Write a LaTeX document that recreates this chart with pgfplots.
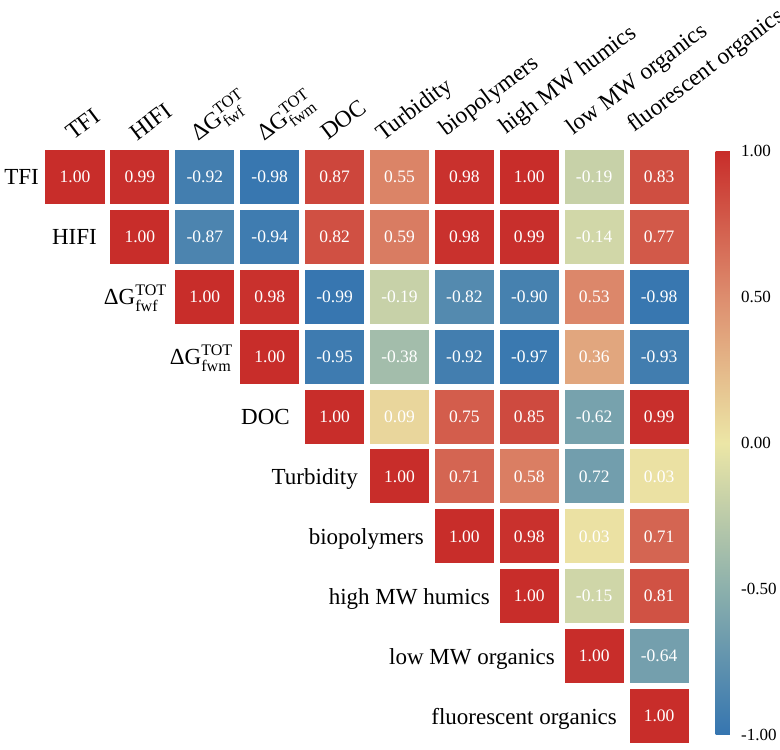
\documentclass[border=0pt]{standalone}
\usepackage{fontspec}
\setmainfont{Liberation Serif}
\usepackage{amsmath}
\usepackage{pgfplots}
\usepackage{pgfplotstable}
\pgfplotsset{compat=1.18}

\pgfdeclareplotmark{cellrect}{%
  \pgfsetfillcolor{mapped color}%
  \pgfpathrectangle{\pgfpoint{-29.5pt}{-27pt}}{\pgfpoint{59pt}{54pt}}%
  \pgfusepath{fill}}

% x = column, y = row, c = colour value, v = printed value
\pgfplotstableread{
x y c v
0 0 1.00 1.00
1 0 0.99 0.99
2 0 -0.92 -0.92
3 0 -0.98 -0.98
4 0 0.87 0.87
5 0 0.55 0.55
6 0 0.98 0.98
7 0 1.00 1.00
8 0 -0.19 -0.19
9 0 0.83 0.83
1 1 1.00 1.00
2 1 -0.87 -0.87
3 1 -0.94 -0.94
4 1 0.82 0.82
5 1 0.59 0.59
6 1 0.98 0.98
7 1 0.99 0.99
8 1 -0.14 -0.14
9 1 0.77 0.77
2 2 1.00 1.00
3 2 0.98 0.98
4 2 -0.99 -0.99
5 2 -0.19 -0.19
6 2 -0.82 -0.82
7 2 -0.90 -0.90
8 2 0.53 0.53
9 2 -0.98 -0.98
3 3 1.00 1.00
4 3 -0.95 -0.95
5 3 -0.38 -0.38
6 3 -0.92 -0.92
7 3 -0.97 -0.97
8 3 0.36 0.36
9 3 -0.93 -0.93
4 4 1.00 1.00
5 4 0.09 0.09
6 4 0.75 0.75
7 4 0.85 0.85
8 4 -0.62 -0.62
9 4 0.99 0.99
5 5 1.00 1.00
6 5 0.71 0.71
7 5 0.58 0.58
8 5 -0.65 0.72
9 5 0.03 0.03
6 6 1.00 1.00
7 6 0.98 0.98
8 6 0.03 0.03
9 6 0.71 0.71
7 7 1.00 1.00
8 7 -0.15 -0.15
9 7 0.81 0.81
8 8 1.00 1.00
9 8 -0.64 -0.64
9 9 1.00 1.00
}\corrdata

\begin{document}
\begin{tikzpicture}
\begin{axis}[
  at={(0pt,0pt)}, anchor=south west,
  scale only axis, width=649pt, height=599pt,
  xmin=-0.5, xmax=9.5, ymin=-0.5, ymax=9.5, y dir=reverse,
  hide axis, clip=false,
  colormap={corr}{rgb255(0cm)=(53,117,176); rgb255(1cm)=(140,176,172); rgb255(2cm)=(236,230,166); rgb255(3cm)=(221,141,110); rgb255(4cm)=(200,45,42)},
  point meta min=-1, point meta max=1,
  colorbar,
  colorbar style={
    at={(parent axis.north east)}, anchor=north west,
    xshift=15.5pt, yshift=-4pt,
    scale only axis, width=26pt, height=584pt,
    ytick={-1,-0.5,0,0.5,1},
    major tick length=0pt,
    axis line style={draw=none},
    yticklabel style={font=\fontsize{17}{20}\selectfont, xshift=-4pt,
      /pgf/number format/.cd, fixed, fixed zerofill, precision=2, assume math mode=true},
  },
]
% coloured cells
\addplot[
  scatter, only marks, mark=cellrect,
  point meta=\thisrow{c},
  scatter/use mapped color={draw=none, fill=mapped color},
] table[x=x, y=y] {\corrdata};
% printed values
\addplot[
  only marks, mark=none,
  point meta=\thisrow{v},
  visualization depends on={\thisrow{v} \as \cellval},
  nodes near coords={\pgfmathprintnumber[fixed,fixed zerofill,precision=2,assume math mode=true]{\cellval}},
  nodes near coords style={anchor=center, text=white, inner sep=0pt,
    font=\fontsize{17.5}{20}\selectfont},
] table[x=x, y=y] {\corrdata};
\end{axis}

% row labels
\begin{scope}[every node/.style={anchor=base east, inner sep=0pt, font=\fontsize{23}{27}\selectfont}]
\node at (-3.55pt, 561pt) {TFI};
\node at (54.45pt, 501pt) {HIFI};
\node at (124.45pt, 441pt) {ΔG$^{\text{TOT}}_{\text{fwf}}$};
\node at (190.45pt, 381pt) {ΔG$^{\text{TOT}}_{\text{fwm}}$};
\node at (247.45pt, 321pt) {DOC};
\node at (315.45pt, 261pt) {Turbidity};
\node at (381.45pt, 201pt) {biopolymers};
\node at (447.45pt, 141pt) {high MW humics};
\node at (512.45pt, 81pt) {low MW organics};
\node at (574.45pt, 21pt) {fluorescent organics};
\end{scope}

% column labels
\begin{scope}[every node/.style={anchor=base west, inner sep=0pt, rotate=37, font=\fontsize{23.5}{27}\selectfont}]
\node at (30.45pt, 605pt) {TFI};
\node at (94.45pt, 604pt) {HIFI};
\node at (155.45pt, 604pt) {ΔG$^{\text{TOT}}_{\text{fwf}}$};
\node at (221.45pt, 604pt) {ΔG$^{\text{TOT}}_{\text{fwm}}$};
\node at (285.45pt, 605pt) {DOC};
\node at (340.45pt, 604pt) {Turbidity};
\node at (403.45pt, 609pt) {biopolymers};
\node at (463.45pt, 611pt) {high MW humics};
\node at (530.45pt, 610pt) {low MW organics};
\node at (591.45pt, 613pt) {fluorescent organics};
\end{scope}

\pgfresetboundingbox
\path (-42.55pt,-4pt) rectangle (737.45pt,746pt);
\end{tikzpicture}
\end{document}
